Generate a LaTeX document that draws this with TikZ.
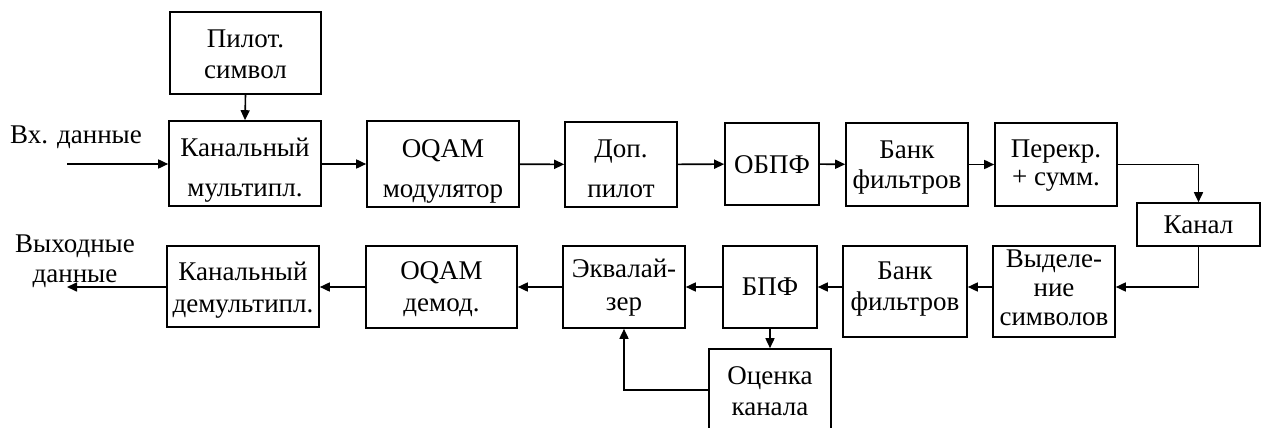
\documentclass[tikz,border=0pt]{standalone}
\usepackage{fontspec}
\setmainfont{Liberation Serif}
\usetikzlibrary{arrows.meta}
\newcommand\tb[3]{\rule{0pt}{#1pt}#3\rule[-#2pt]{0pt}{#2pt}}
\begin{document}
\begin{tikzpicture}[x=1pt,y=-1pt,
  blk/.style={draw,line width=1.6pt,inner sep=0pt,align=center,
    font=\fontsize{27}{31}\selectfont},
  sk/.style={font=\fontsize{27}{#1}\selectfont},
  lbl/.style={inner sep=0pt,font=\fontsize{27}{31}\selectfont},
  arr/.style={line width=1.6pt,-{Triangle[length=10pt,width=9pt]}},
  ln/.style={line width=1.6pt}]
\clip (0,0) rectangle (1270,428);
\fill[white] (0,0) rectangle (1270,428);
% top row
\node[blk,sk=31,minimum width=151pt,minimum height=82pt] (pil) at (245.5,53) {\tb{29}{10}{Пилот.\\символ}};
\node[blk,sk=40,minimum width=152pt,minimum height=81pt] (km) at (245,163.5) {\tb{35}{10}{Канальный\\мультипл.}};
\node[blk,sk=40,minimum width=152pt,minimum height=82pt] (oqm) at (443,164) {\tb{36}{10}{OQAM\\модулятор}};
\node[blk,sk=40,minimum width=112pt,minimum height=81pt] (dop) at (621,164.5) {\tb{35}{10}{Доп.\\пилот}};
\node[blk,minimum width=94pt,minimum height=82pt] (obpf) at (772,164) {\tb{28}{10}{ОБПФ}};
\node[blk,sk=30,minimum width=122pt,minimum height=83pt] (bf1) at (907,164.5) {\tb{27}{10}{Банк\\фильтров}};
\node[blk,sk=28,minimum width=122pt,minimum height=83pt] (per) at (1056,164.5) {\tb{23}{10}{Перекр.\\+ сумм.}};
\node[blk,minimum width=123pt,minimum height=43pt] (kan) at (1198.5,224.5) {\tb{27}{10}{Канал}};
% bottom row
\node[blk,sk=29,minimum width=122pt,minimum height=91pt] (vyd) at (1054,291.5) {\tb{20}{11}{Выделе-\\ние\\символов}};
\node[blk,sk=31,minimum width=124pt,minimum height=91pt] (bf2) at (905,291.5) {\tb{20}{14}{Банк\\фильтров}};
\node[blk,minimum width=94pt,minimum height=82pt] (bpf) at (770,287) {\tb{26}{10}{БПФ}};
\node[blk,sk=33,minimum width=122pt,minimum height=82pt] (ekv) at (624,287) {\tb{23}{10}{Эквалай-\\зер}};
\node[blk,sk=32,minimum width=151pt,minimum height=82pt] (oqd) at (441.5,287) {\tb{26}{10}{OQAM\\демод.}};
\node[blk,sk=32,minimum width=152pt,minimum height=81pt] (kdm) at (243,286.5) {\tb{29}{10}{Канальный\\демультипл.}};
\node[blk,sk=31,minimum width=122pt,minimum height=82pt] (otc) at (770,390) {\tb{29}{10}{Оценка\\канала}};
% labels
\node[lbl,anchor=base west] (inl) at (10,143) {Вх. данные};
\node[lbl,anchor=base] (out1) at (75,252) {Выходные};
\node[lbl,anchor=base] (out2) at (75,282) {данные};
\coordinate (inp) at (67,164);
\coordinate (outp) at (67,287);
% connectors
\draw[arr] (inp) -- (km.west |- inp);
\draw[arr] (pil.south) -- (km.north);
\draw[arr] (km.east |- oqm.west) -- (oqm.west);
\draw[arr] (oqm) -- (dop);
\draw[arr] (dop) -- (obpf);
\draw[arr] (obpf) -- (bf1);
\draw[arr] (bf1) -- (per);
\draw[arr] (per.east) -| (kan.north);
\draw[arr] (kan.south) |- (vyd.east |- bpf.center);
\draw[arr] (vyd.west |- bpf.center) -- (bf2.east |- bpf.center);
\draw[arr] (bf2.west |- bpf.center) -- (bpf.east);
\draw[arr] (bpf) -- (ekv);
\draw[arr] (ekv) -- (oqd);
\draw[arr] (oqd.west) -- (kdm.east |- oqd.west);
\draw[arr] (kdm.west |- oqd.west) -- (outp);
\draw[arr] (bpf.south) -- (otc.north);
\draw[arr] (otc.west) -| (ekv.south);
\end{tikzpicture}
\end{document}
